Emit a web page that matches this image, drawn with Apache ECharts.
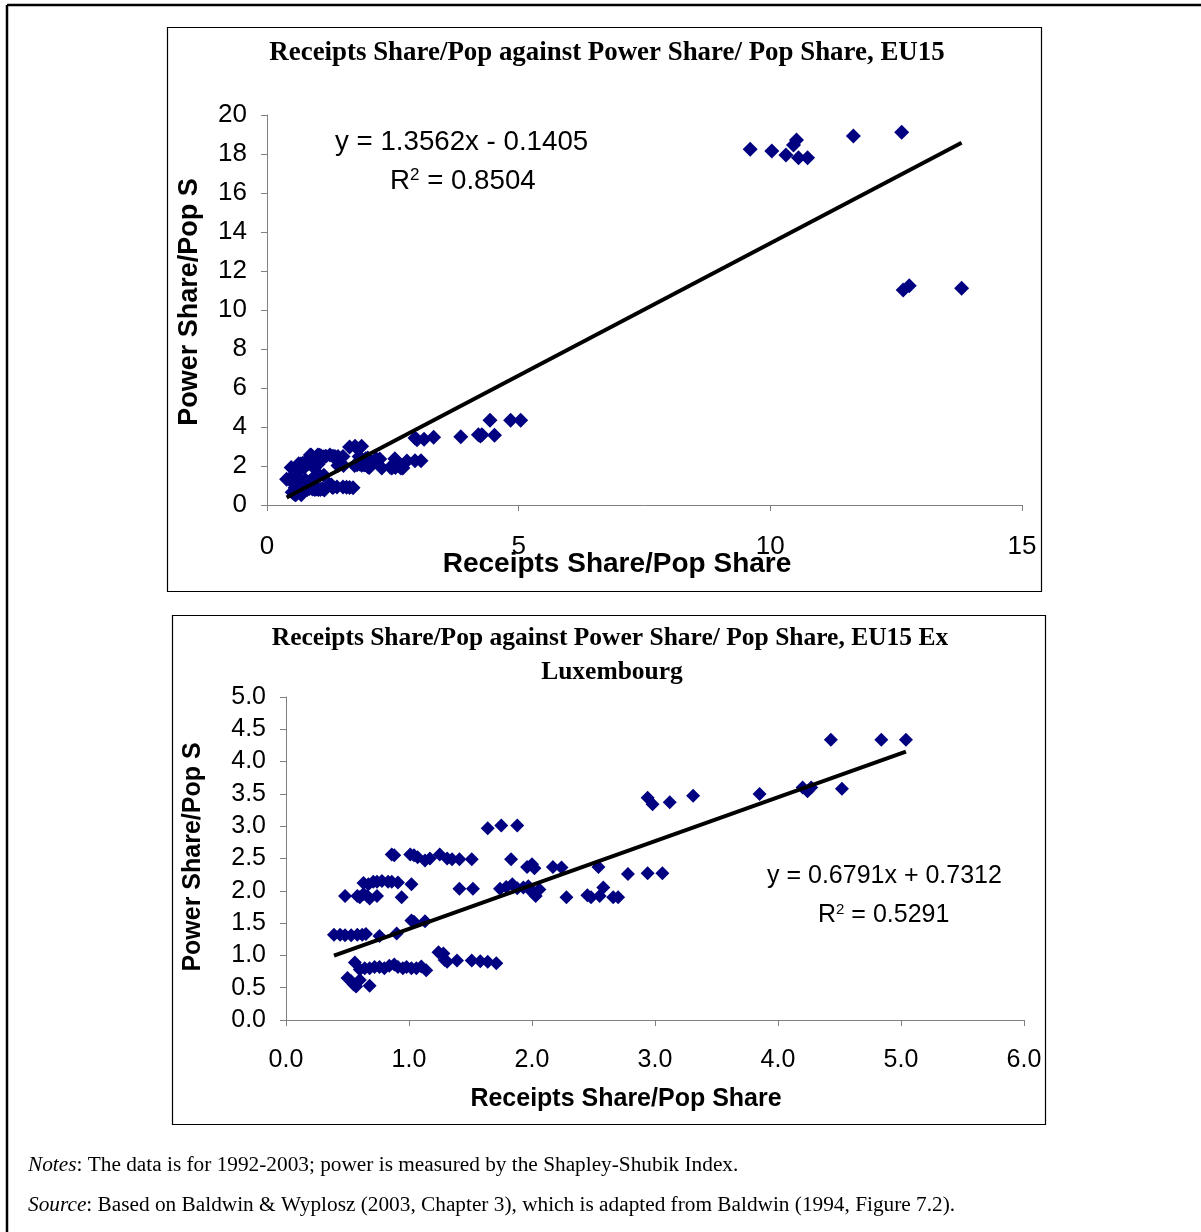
<!DOCTYPE html>
<html>
<head>
<meta charset="utf-8">
<script src="https://cdn.jsdelivr.net/npm/echarts@6/dist/echarts.min.js"></script>
<style>
  html, body { margin: 0; padding: 0; background: #ffffff; }
  #chart { width: 1201px; height: 1232px; }
</style>
</head>
<body>
<div id="chart"></div>
<script>
// Receipts share / population share (x) against power share / population share (y),
// one point per member state and year, 1992-2003.

// EU member states other than Luxembourg
const eu14Points = [
  [4.43, 4.34], [4.84, 4.34], [5.04, 4.34],
  [3.85, 3.50], [4.20, 3.60], [4.24, 3.54], [4.27, 3.60], [4.52, 3.58],
  [2.94, 3.44], [2.98, 3.34], [3.12, 3.37], [3.31, 3.47],
  [1.64, 2.97], [1.75, 3.01], [1.88, 3.01],
  [0.86, 2.56], [0.88, 2.55], [1.01, 2.56], [1.04, 2.55], [1.07, 2.52], [1.13, 2.47],
  [1.17, 2.50], [1.25, 2.56], [1.31, 2.50], [1.35, 2.49], [1.41, 2.49], [1.51, 2.49],
  [1.83, 2.49], [1.96, 2.37], [2.00, 2.41], [2.02, 2.35], [2.17, 2.37], [2.24, 2.36],
  [2.54, 2.37], [2.78, 2.26], [2.94, 2.27], [3.06, 2.27],
  [0.63, 2.12], [0.67, 2.10], [0.71, 2.14], [0.74, 2.14], [0.78, 2.15], [0.83, 2.14],
  [0.86, 2.14], [0.91, 2.13], [1.02, 2.10],
  [0.48, 1.92], [0.58, 1.92], [0.60, 1.90], [0.63, 1.95], [0.66, 1.92], [0.68, 1.88],
  [0.74, 1.92], [0.94, 1.90],
  [1.41, 2.03], [1.52, 2.03], [1.74, 2.03], [1.79, 2.06], [1.84, 2.10], [1.88, 2.04],
  [1.93, 2.05], [1.97, 2.07], [2.00, 1.98], [2.03, 1.92], [2.06, 2.02], [2.02, 1.95],
  [2.28, 1.90], [2.45, 1.93], [2.48, 1.90], [2.55, 1.92], [2.58, 2.05], [2.66, 1.90], [2.70, 1.90],
  [0.39, 1.32], [0.44, 1.32], [0.48, 1.31], [0.53, 1.31], [0.58, 1.32], [0.62, 1.32],
  [0.65, 1.33], [0.76, 1.30], [0.90, 1.34],
  [1.02, 1.54], [1.04, 1.52], [1.13, 1.53],
  [0.56, 0.89], [0.60, 0.78], [0.64, 0.80], [0.68, 0.80], [0.72, 0.82], [0.76, 0.82],
  [0.80, 0.80], [0.84, 0.84], [0.88, 0.86], [0.91, 0.82], [0.95, 0.80], [0.98, 0.82],
  [1.02, 0.80], [1.06, 0.80], [1.10, 0.83], [1.14, 0.77],
  [1.24, 1.05], [1.28, 1.03], [1.29, 0.93], [1.31, 0.90], [1.39, 0.92], [1.51, 0.92],
  [1.58, 0.91], [1.64, 0.90], [1.71, 0.88],
  [0.50, 0.65], [0.53, 0.60], [0.55, 0.55], [0.57, 0.52], [0.60, 0.62], [0.68, 0.53]
];

// Luxembourg, 1992-2003
const luxPoints = [
  [9.60, 18.24], [10.03, 18.15], [10.31, 17.95], [10.46, 18.46], [10.52, 18.72], [10.56, 17.81],
  [10.74, 17.81], [11.65, 18.92], [12.61, 19.11], [12.64, 11.03], [12.76, 11.25], [13.80, 11.11]
];

// Fitted linear trends (coefficients as printed on each panel)
const trendAll = { slope: 1.3562, intercept: -0.1405, eq: 'y = 1.3562x - 0.1405', r2: '0.8504' };
const trendExLux = { slope: 0.6791, intercept: 0.7312, eq: 'y = 0.6791x + 0.7312', r2: '0.5291' };

// Axis ranges and tick steps
const topXAxisRange = [0, 15, 5];
const topYAxisRange = [0, 20, 2];
const bottomXAxisRange = [0, 6, 1];
const bottomYAxisRange = [0, 5, 0.5];

// Panel texts
const topTitle = 'Receipts Share/Pop against Power Share/ Pop Share, EU15';
const bottomTitle = ['Receipts Share/Pop against Power Share/ Pop Share, EU15 Ex', 'Luxembourg'];
const xName = 'Receipts Share/Pop Share';
const yName = 'Power Share/Pop S';
const notesText = ': The data is for 1992-2003; power is measured by the Shapley-Shubik Index.';
const sourceText = ': Based on Baldwin & Wyplosz (2003, Chapter 3), which is adapted from Baldwin (1994, Figure 7.2).';

const allPoints = eu14Points.concat(luxPoints);

function trendLine(points, fit) {
  const xs = points.map(p => p[0]);
  const x0 = Math.min.apply(null, xs), x1 = Math.max.apply(null, xs);
  return [[x0, fit.slope * x0 + fit.intercept], [x1, fit.slope * x1 + fit.intercept]];
}

const SANS = '"Liberation Sans", Arial, sans-serif';
const SERIF = '"Liberation Serif", "Times New Roman", serif';
const MARK = '#000080';
const AXIS = '#808080';

function valueAxis(gridIndex, range, fontSize, margin, fmt, pad) {
  return {
    type: 'value', gridIndex: gridIndex,
    min: range[0], max: range[1], interval: range[2],
    axisLine: { show: true, onZero: false, lineStyle: { color: AXIS, width: 1 } },
    axisTick: { show: true, length: 6, lineStyle: { color: AXIS, width: 1 } },
    axisLabel: {
      color: '#000', fontSize: fontSize, fontFamily: SANS, margin: margin,
      showMinLabel: true, showMaxLabel: true,
      padding: pad || 0,
      formatter: fmt || (v => String(v))
    },
    splitLine: { show: false }
  };
}

function eqText(x, y, eq, r2, size, r2x) {
  return [
    { type: 'text', x: x, y: y, style: { text: eq, font: size + 'px ' + SANS, fill: '#000', align: 'left', verticalAlign: 'middle' } },
    { type: 'text', x: r2x, y: y + 39, style: {
        text: 'R{sup|2} = ' + r2, font: size + 'px ' + SANS, fill: '#000', align: 'left', verticalAlign: 'middle',
        rich: { sup: { fontSize: Math.round(size * 0.6), fontFamily: SANS, verticalAlign: 'top', padding: [0, 0, 10, 0] } }
      } }
  ];
}

const chart = echarts.init(document.getElementById('chart'), null, { renderer: 'canvas' });

const graphics = [
  // page frame
  { type: 'line', shape: { x1: 7, y1: 5, x2: 1201, y2: 5 }, style: { stroke: '#000', lineWidth: 2.5 } },
  { type: 'line', shape: { x1: 7, y1: 5, x2: 7, y2: 1232 }, style: { stroke: '#000', lineWidth: 2.5 } },
  // chart boxes
  { type: 'rect', shape: { x: 167.5, y: 27.5, width: 874, height: 564 }, style: { fill: null, stroke: '#000', lineWidth: 1.2 } },
  { type: 'rect', shape: { x: 172.5, y: 615.5, width: 873, height: 509 }, style: { fill: null, stroke: '#000', lineWidth: 1.2 } },
  // titles
  { type: 'text', x: 607, y: 53, style: { text: topTitle, font: 'bold 26.9px ' + SERIF, fill: '#000', align: 'center', verticalAlign: 'middle' } },
  { type: 'text', x: 610, y: 638, style: { text: bottomTitle[0], font: 'bold 25.5px ' + SERIF, fill: '#000', align: 'center', verticalAlign: 'middle' } },
  { type: 'text', x: 612, y: 672, style: { text: bottomTitle[1], font: 'bold 25.5px ' + SERIF, fill: '#000', align: 'center', verticalAlign: 'middle' } },
  // axis names
  { type: 'text', x: 617, y: 564, style: { text: xName, font: 'bold 28px ' + SANS, fill: '#000', align: 'center', verticalAlign: 'middle' } },
  { type: 'text', x: 190, y: 302, rotation: Math.PI / 2, style: { text: yName, font: 'bold 27px ' + SANS, fill: '#000', align: 'center', verticalAlign: 'middle' } },
  { type: 'text', x: 626, y: 1099, style: { text: xName, font: 'bold 25px ' + SANS, fill: '#000', align: 'center', verticalAlign: 'middle' } },
  { type: 'text', x: 193, y: 857, rotation: Math.PI / 2, style: { text: yName, font: 'bold 25px ' + SANS, fill: '#000', align: 'center', verticalAlign: 'middle' } },
  // notes
  { type: 'text', x: 28, y: 1165, style: {
      text: '{i|Notes}' + notesText, font: '21.3px ' + SERIF, fill: '#000', align: 'left', verticalAlign: 'middle',
      rich: { i: { fontStyle: 'italic', fontSize: 21.3, fontFamily: SERIF } } } },
  { type: 'text', x: 28, y: 1205, style: {
      text: '{i|Source}' + sourceText, font: '21.3px ' + SERIF, fill: '#000', align: 'left', verticalAlign: 'middle',
      rich: { i: { fontStyle: 'italic', fontSize: 21.3, fontFamily: SERIF } } } }
].concat(
  eqText(335, 142, trendAll.eq, trendAll.r2, 27.7, 390),
  eqText(767, 876, trendExLux.eq, trendExLux.r2, 25, 818)
);

chart.setOption({
  animation: false,
  backgroundColor: '#ffffff',
  grid: [
    { left: 267, top: 115, width: 755, height: 390, containLabel: false },
    { left: 286, top: 697, width: 738, height: 323, containLabel: false }
  ],
  xAxis: [
    valueAxis(0, topXAxisRange, 26, 29),
    valueAxis(1, bottomXAxisRange, 25, 28, v => v.toFixed(1))
  ],
  yAxis: [
    valueAxis(0, topYAxisRange, 26, 20, null, [4, 0, 0, 0]),
    valueAxis(1, bottomYAxisRange, 25, 20, v => v.toFixed(1), [2, 0, 0, 0])
  ],
  series: [
    { type: 'scatter', xAxisIndex: 0, yAxisIndex: 0, data: allPoints, symbol: 'diamond', symbolSize: 15,
      itemStyle: { color: MARK, opacity: 1 }, silent: true, z: 2 },
    { type: 'line', xAxisIndex: 0, yAxisIndex: 0, data: trendLine(allPoints, trendAll), symbol: 'none',
      lineStyle: { color: '#000', width: 4 }, silent: true, z: 3 },
    { type: 'scatter', xAxisIndex: 1, yAxisIndex: 1, data: eu14Points, symbol: 'diamond', symbolSize: 14,
      itemStyle: { color: MARK, opacity: 1 }, silent: true, z: 2 },
    { type: 'line', xAxisIndex: 1, yAxisIndex: 1, data: trendLine(eu14Points, trendExLux), symbol: 'none',
      lineStyle: { color: '#000', width: 4 }, silent: true, z: 3 }
  ],
  graphic: graphics
});
</script>
</body>
</html>
